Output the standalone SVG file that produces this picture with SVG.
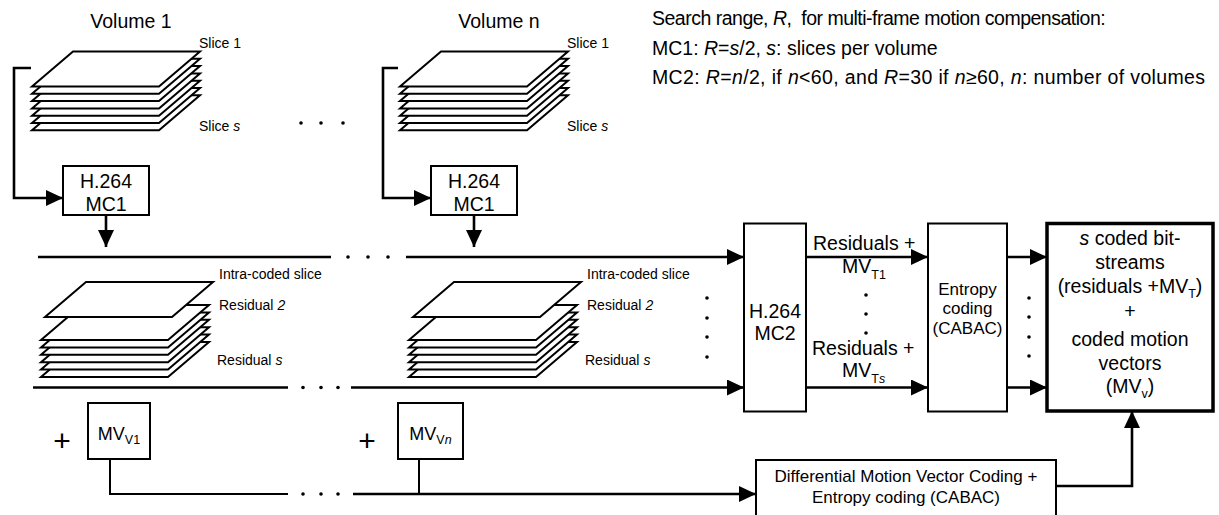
<svg xmlns="http://www.w3.org/2000/svg" xmlns:xlink="http://www.w3.org/1999/xlink" width="1219" height="515" viewBox="0 0 1219 515">
<style>
text{font-family:"Liberation Sans",Arial,Helvetica,sans-serif;fill:#000}
.big{font-size:19.5px}
.mid{font-size:17px}
.sm{font-size:14px}
.sub{font-size:12.5px}
.it{font-style:italic}
.sl{fill:#fff;stroke:#000;stroke-width:2;stroke-linejoin:miter}
.box{fill:#fff;stroke:#000;stroke-width:2}
.tbox{fill:#fff;stroke:#000;stroke-width:3.5}
.ln{fill:none;stroke:#000;stroke-width:2.6}
.thin{fill:none;stroke:#000;stroke-width:2}
.dot{fill:#000}
</style>
<defs>
<polygon id="slice" class="sl" points="41,0 168,0 127,35 0,35"/>
<marker id="ah" viewBox="0 0 17 16" refX="17" refY="8" markerWidth="17" markerHeight="16" markerUnits="userSpaceOnUse" orient="auto">
<path d="M0,0 L17,8 L0,16 z" fill="#000"/>
</marker>
</defs>

<g id="volume1">
<text class="big" x="131" y="28" text-anchor="middle">Volume 1</text>
<g id="stack1">
<use xlink:href="#slice" x="32" y="95.3"/>
<use xlink:href="#slice" x="32" y="88"/>
<use xlink:href="#slice" x="32" y="80.7"/>
<use xlink:href="#slice" x="32" y="73.4"/>
<use xlink:href="#slice" x="32" y="66.1"/>
<use xlink:href="#slice" x="32" y="58.8"/>
<use xlink:href="#slice" x="32" y="51.5"/>
</g>
<text class="sm" x="199" y="48">Slice 1</text>
<text class="sm" x="199" y="131">Slice <tspan class="it">s</tspan></text>
</g>

<g id="volumeN">
<text class="big" x="499" y="28" text-anchor="middle">Volume n</text>
<g id="stackN">
<use xlink:href="#slice" x="400" y="95.3"/>
<use xlink:href="#slice" x="400" y="88"/>
<use xlink:href="#slice" x="400" y="80.7"/>
<use xlink:href="#slice" x="400" y="73.4"/>
<use xlink:href="#slice" x="400" y="66.1"/>
<use xlink:href="#slice" x="400" y="58.8"/>
<use xlink:href="#slice" x="400" y="51.5"/>
</g>
<text class="sm" x="567" y="48">Slice 1</text>
<text class="sm" x="567" y="131">Slice <tspan class="it">s</tspan></text>
</g>

<g id="note">
<text class="big" x="652" y="25" letter-spacing="-0.5">Search range, <tspan class="it">R</tspan>,&#160; for multi-frame motion compensation:</text>
<text class="big" x="652" y="55">MC1: <tspan class="it">R</tspan>=<tspan class="it">s</tspan>/2, <tspan class="it">s</tspan>: slices per volume</text>
<text class="big" x="652" y="84" letter-spacing="0.35">MC2: <tspan class="it">R</tspan>=<tspan class="it">n</tspan>/2, if <tspan class="it">n</tspan>&lt;60, and <tspan class="it">R</tspan>=30 if <tspan class="it">n</tspan>≥60, <tspan class="it">n</tspan>: number of volumes</text>
</g>

<g id="mc1-1">
<rect class="box" x="63" y="166" width="86" height="49"/>
<text class="big" x="106" y="188" text-anchor="middle">H.264</text>
<text class="big" x="106" y="211" text-anchor="middle">MC1</text>
</g>
<g id="mc1-n">
<rect class="box" x="431" y="166" width="86" height="49"/>
<text class="big" x="474" y="188" text-anchor="middle">H.264</text>
<text class="big" x="474" y="211" text-anchor="middle">MC1</text>
</g>

<g id="residuals1">
<use xlink:href="#slice" x="41" y="342"/>
<use xlink:href="#slice" x="41" y="334.6"/>
<use xlink:href="#slice" x="41" y="327.2"/>
<use xlink:href="#slice" x="41" y="319.8"/>
<use xlink:href="#slice" x="41" y="312.4"/>
<use xlink:href="#slice" x="41" y="305"/>
<use xlink:href="#slice" x="45" y="282"/>
<text class="sm" x="219" y="279">Intra-coded slice</text>
<text class="sm" x="219" y="310">Residual <tspan class="it">2</tspan></text>
<text class="sm" x="217" y="365">Residual <tspan class="it">s</tspan></text>
</g>

<g id="residualsN">
<use xlink:href="#slice" x="409" y="342"/>
<use xlink:href="#slice" x="409" y="334.6"/>
<use xlink:href="#slice" x="409" y="327.2"/>
<use xlink:href="#slice" x="409" y="319.8"/>
<use xlink:href="#slice" x="409" y="312.4"/>
<use xlink:href="#slice" x="409" y="305"/>
<use xlink:href="#slice" x="413" y="282"/>
<text class="sm" x="587" y="279">Intra-coded slice</text>
<text class="sm" x="587" y="310">Residual <tspan class="it">2</tspan></text>
<text class="sm" x="585" y="365">Residual <tspan class="it">s</tspan></text>
</g>

<g id="mc2">
<rect class="box" x="744" y="223.5" width="62" height="188"/>
<text class="big" x="775" y="318" text-anchor="middle">H.264</text>
<text class="big" x="775" y="340" text-anchor="middle">MC2</text>
</g>

<g id="entropy">
<rect class="box" x="928" y="223.5" width="79" height="188"/>
<text class="mid" x="967.5" y="295" text-anchor="middle">Entropy</text>
<text class="mid" x="967.5" y="314" text-anchor="middle">coding</text>
<text class="mid" x="967.5" y="334" text-anchor="middle">(CABAC)</text>
</g>

<g id="output">
<rect class="tbox" x="1047" y="223.5" width="166" height="187.5"/>
<text class="big" x="1130" y="245" text-anchor="middle"><tspan class="it">s</tspan> coded bit-</text>
<text class="big" x="1130" y="269" text-anchor="middle">streams</text>
<text class="big" x="1130" y="293" text-anchor="middle">(residuals +MV<tspan class="sub" dy="5">T</tspan><tspan dy="-5">)</tspan></text>
<text class="big" x="1130" y="318" text-anchor="middle">+</text>
<text class="big" x="1130" y="346" text-anchor="middle">coded motion</text>
<text class="big" x="1130" y="370" text-anchor="middle">vectors</text>
<text class="big" x="1130" y="393" text-anchor="middle">(MV<tspan class="sub" dy="5">v</tspan><tspan dy="-5">)</tspan></text>
</g>

<g id="mvv1">
<text x="62" y="451" font-size="30" text-anchor="middle">+</text>
<rect class="box" x="88" y="403" width="62" height="56"/>
<text x="119" y="440" font-size="18" text-anchor="middle">MV<tspan class="sub" dy="4">V1</tspan></text>
</g>
<g id="mvvn">
<text x="367" y="451" font-size="30" text-anchor="middle">+</text>
<rect class="box" x="398" y="403" width="65" height="56"/>
<text x="430.5" y="440" font-size="18" text-anchor="middle">MV<tspan class="sub" dy="4">V<tspan class="it">n</tspan></tspan></text>
</g>

<g id="dmvc">
<rect class="box" x="756" y="460" width="300" height="70"/>
<text class="mid" x="906" y="482" text-anchor="middle">Differential Motion Vector Coding +</text>
<text class="mid" x="906" y="503" text-anchor="middle">Entropy coding (CABAC)</text>
</g>

<g id="connectors">
<path class="ln" d="M31,68 H14 V198 H63" marker-end="url(#ah)"/>
<path class="ln" d="M398,68 H383 V198 H431" marker-end="url(#ah)"/>
<path class="ln" d="M106,215 V247" marker-end="url(#ah)"/>
<path class="ln" d="M474,215 V247" marker-end="url(#ah)"/>
<path class="ln" d="M38,257 H331"/>
<path class="ln" d="M406,257 H744" marker-end="url(#ah)"/>
<path class="ln" d="M33,387.5 H288"/>
<path class="ln" d="M351,387.5 H744" marker-end="url(#ah)"/>
<path class="ln" d="M806,257 H928" marker-end="url(#ah)"/>
<path class="ln" d="M806,387.5 H928" marker-end="url(#ah)"/>
<path class="ln" d="M1007,257 H1047" marker-end="url(#ah)"/>
<path class="ln" d="M1007,387.5 H1047" marker-end="url(#ah)"/>
<path class="thin" d="M110,459 V494 H288"/>
<path class="ln" d="M353,494 H756" marker-end="url(#ah)"/>
<path class="thin" d="M419,459 V494"/>
<path class="ln" d="M1056,486 H1132 V411" marker-end="url(#ah)"/>
<g class="dot">
<circle cx="301" cy="123" r="1.8"/><circle cx="321" cy="123" r="1.8"/><circle cx="343" cy="123" r="1.8"/>
<circle cx="348" cy="257" r="1.8"/><circle cx="368" cy="257" r="1.8"/><circle cx="388" cy="257" r="1.8"/>
<circle cx="303" cy="387.5" r="1.8"/><circle cx="321" cy="387.5" r="1.8"/><circle cx="338" cy="387.5" r="1.8"/>
<circle cx="303" cy="494" r="1.8"/><circle cx="321" cy="494" r="1.8"/><circle cx="338" cy="494" r="1.8"/>
<circle cx="707" cy="298" r="1.8"/><circle cx="707" cy="318" r="1.8"/><circle cx="707" cy="337" r="1.8"/><circle cx="707" cy="357" r="1.8"/>
<circle cx="866" cy="295" r="1.8"/><circle cx="866" cy="314" r="1.8"/><circle cx="866" cy="333" r="1.8"/>
<circle cx="1029" cy="298" r="1.8"/><circle cx="1029" cy="317" r="1.8"/><circle cx="1029" cy="337" r="1.8"/><circle cx="1029" cy="356" r="1.8"/>
</g>
<text class="big" x="813" y="250">Residuals +</text>
<text class="big" x="842" y="273">MV<tspan class="sub" dy="6">T1</tspan></text>
<text class="big" x="812" y="355">Residuals +</text>
<text class="big" x="842" y="377">MV<tspan class="sub" dy="6">T<tspan class="it">s</tspan></tspan></text>
</g>
</svg>
